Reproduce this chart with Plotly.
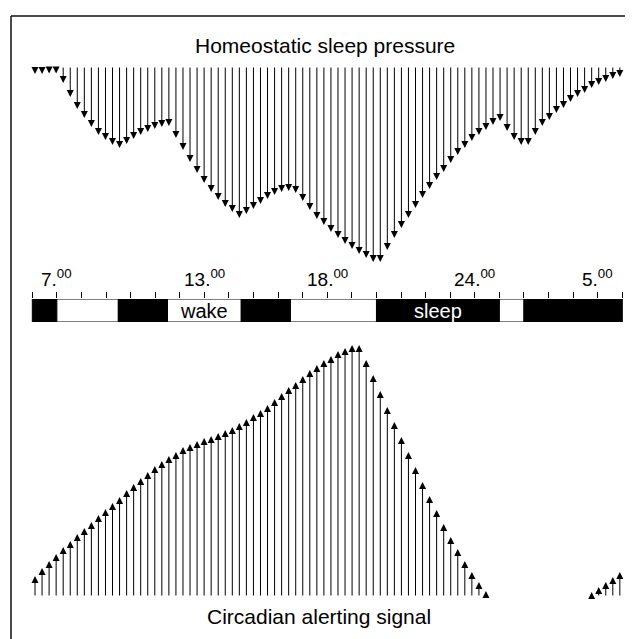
import numpy as np
import plotly.graph_objects as go

# page is 633x639; the HTML body has an 8px margin, so the figure covers page px 8..633 / 8..639
OFF = 8
W, H = 633 - OFF, 639 - OFF

# ---------------- data ----------------
# sampling times (hours after midnight of day 1; 24+ = next day)
sample_first, sample_last = 6.11, 29.90

# homeostatic sleep pressure (arbitrary units, drawn downward)
pressure = [8, 8, 7.5, 7.5, 17, 31, 43, 52, 61, 69, 74, 79, 82, 78, 73, 69, 66, 63, 61, 60,
            72, 84, 96, 107, 117, 126, 134, 141, 146, 152, 148, 143, 138, 133, 129, 126, 125, 127, 135, 144,
            153, 159, 166, 172, 178, 183, 188, 192, 196, 196, 184, 172, 162, 152, 142, 132, 123, 114, 106, 97,
            89, 82, 75, 69, 64, 59, 55, 65, 74, 79, 79, 69, 60, 54, 47, 42, 36, 31, 27, 22,
            19, 16, 13, 11]

# circadian alerting signal (arbitrary units, drawn upward; None = no signal)
alerting = [21, 29, 36, 43, 50, 56, 63, 69, 75, 82, 88, 94, 100, 107, 113, 119, 125, 131, 136, 141,
            145, 150, 153, 156, 159, 161, 164, 167, 170, 174, 178, 183, 187, 192, 198, 204, 210, 215, 221, 227,
            232, 237, 241, 246, 249, 252, 252, 237, 222, 206, 190, 175, 160, 145, 130, 115, 101, 87, 73, 60,
            48, 36, 25, 15, 6, None, None, None, None, None, None, None, None, None, None, None, None, None, None, 5,
            10, 15, 20, 25]

# sleep / wake schedule bar
seg_edges = [6, 7, 9.5, 11.5, 14.5, 16.5, 20, 25, 26, 30]
seg_state = ["sleep", "wake", "sleep", "wake", "sleep", "wake", "sleep", "wake", "sleep"]
seg_text = ["", "", "", "wake", "", "", "sleep", "", ""]

tick_hours = list(range(6, 31))
label_hours = [7, 13, 18, 24, 29]
label_text = ["7", "13", "18", "24", "5"]

titles = ["Homeostatic sleep pressure", "Circadian alerting signal"]

# ---------------- layout helpers ----------------
FONT = "Liberation Sans, Arial, Helvetica, sans-serif"


def pv(py):
    """page pixel row -> paper y"""
    return 1 - (py - OFF) / H


def ph(px):
    """page pixel column -> paper x"""
    return (px - OFF) / W


times = np.linspace(sample_first, sample_last, len(pressure))
px_per_h = 590.0 / 24.0
x0 = 6 - (32.3 - OFF) / px_per_h
x1 = x0 + W / px_per_h

fig = go.Figure()

# invisible anchors for the two arrow panels
fig.add_trace(go.Scatter(x=times, y=pressure, mode="markers", marker=dict(opacity=0),
                         xaxis="x", yaxis="y", hoverinfo="skip", showlegend=False))
fig.add_trace(go.Scatter(x=times, y=alerting, mode="markers", marker=dict(opacity=0),
                         xaxis="x", yaxis="y2", hoverinfo="skip", showlegend=False))

# schedule bar
starts = seg_edges[:-1]
durs = [b - a for a, b in zip(seg_edges[:-1], seg_edges[1:])]
colors = ["black" if s == "sleep" else "white" for s in seg_state]
tcolors = ["white" if s == "sleep" else "black" for s in seg_state]
fig.add_trace(go.Bar(
    y=[0] * len(durs), x=durs, base=starts, orientation="h", width=1,
    marker=dict(color=colors, line=dict(color="black", width=1)),
    xaxis="x", yaxis="y3", hoverinfo="skip", showlegend=False))

annotations = []
for a, b, s, txt, tc in zip(seg_edges[:-1], seg_edges[1:], seg_state, seg_text, tcolors):
    if txt:
        annotations.append(dict(x=(a + b) / 2, y=0, xref="x", yref="y3", yanchor="middle",
                                text=txt, showarrow=False,
                                font=dict(size=20, family=FONT, color=tc)))

for t, v in zip(times, pressure):
    annotations.append(dict(x=t, y=v, xref="x", yref="y", ax=t, ay=0, axref="x", ayref="y",
                            text="", showarrow=True, arrowhead=2, arrowsize=1.4, arrowwidth=1,
                            arrowcolor="black"))
for t, v in zip(times, alerting):
    if v is None:
        continue
    annotations.append(dict(x=t, y=v, xref="x", yref="y2", ax=t, ay=0, axref="x", ayref="y2",
                            text="", showarrow=True, arrowhead=2, arrowsize=1.4, arrowwidth=1,
                            arrowcolor="black"))

for h_, lab in zip(label_hours, label_text):
    annotations.append(dict(x=h_, y=pv(292), xref="x", yref="paper", yanchor="bottom",
                            text=f"{lab}.<sup>00</sup>", showarrow=False,
                            font=dict(size=19, family=FONT, color="black")))

annotations.append(dict(x=ph(325), y=pv(45), xref="paper", yref="paper", yanchor="middle",
                        text=titles[0], showarrow=False, font=dict(size=21, family=FONT, color="black")))
annotations.append(dict(x=ph(319), y=pv(616), xref="paper", yref="paper", yanchor="middle",
                        text=titles[1], showarrow=False, font=dict(size=21, family=FONT, color="black")))

shapes = [
    dict(type="line", xref="paper", yref="paper", x0=ph(11), x1=1.05, y0=pv(16), y1=pv(16),
         line=dict(color="#111", width=1.5)),
    dict(type="line", xref="paper", yref="paper", x0=ph(11), x1=ph(11), y0=pv(16), y1=-0.05,
         line=dict(color="#111", width=1.5)),
]

fig.update_layout(
    width=W, height=H, margin=dict(l=0, r=0, t=0, b=0),
    paper_bgcolor="white", plot_bgcolor="rgba(0,0,0,0)",
    showlegend=False,
    xaxis=dict(range=[x0, x1], domain=[0, 1], anchor="y3", side="top", showgrid=False,
               zeroline=False, showline=False, ticks="outside", tickvals=tick_hours,
               ticklen=6, tickwidth=1, tickcolor="black", showticklabels=False, fixedrange=True),
    yaxis=dict(domain=[pv(266), pv(66)], range=[200, 0], visible=False, fixedrange=True),
    yaxis2=dict(domain=[pv(597), pv(337)], range=[0, 260], visible=False, fixedrange=True),
    yaxis3=dict(domain=[pv(322), pv(299)], range=[-0.5, 0.5], visible=False, fixedrange=True),
    annotations=annotations,
    shapes=shapes,
)

fig.write_html("out.html", config=dict(displayModeBar=False))
